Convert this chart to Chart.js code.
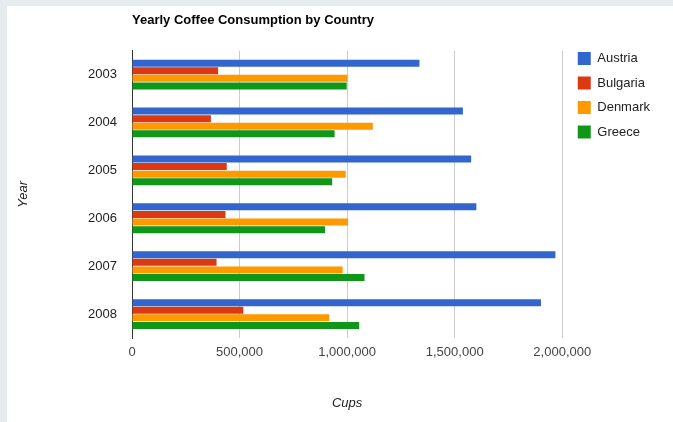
<!DOCTYPE html>
<html>
<head>
<meta charset="utf-8">
<script src="https://cdn.jsdelivr.net/npm/chart.js@4/dist/chart.umd.min.js"></script>
<style>
  html, body { margin: 0; padding: 0; background: #e6ebee; }
  #wrap { width: 673px; height: 422px; position: relative; }
</style>
</head>
<body>
<div id="wrap"><canvas id="coffee" width="673" height="422"></canvas></div>
<script>
// data
var years = ["2003", "2004", "2005", "2006", "2007", "2008"];
var austria  = [1336060, 1538156, 1576579, 1600652, 1968113, 1901067];
var bulgaria = [400361, 366849, 440514, 434552, 393032, 517206];
var denmark  = [1001582, 1119450, 993360, 1004163, 979198, 916965];
var greece   = [997974, 941795, 930593, 897127, 1080887, 1056036];
var cupTicks = [0, 500000, 1000000, 1500000, 2000000];

var FONT = "'Liberation Sans', Arial, sans-serif";

// gray page with the white panel behind the chart
var panel = {
	id : "panel",
	beforeDraw : function(chart) {
		var c = chart.ctx;
		c.save();
		c.fillStyle = "#e6ebee";
		c.fillRect(0, 0, chart.width, chart.height);
		c.fillStyle = "#ffffff";
		c.fillRect(7, 6, chart.width - 7, chart.height - 6);
		c.restore();
	},
	afterLayout : function(chart) {
		// nudge the legend into place
		chart.legend.left += 4;
		chart.legend.right += 4;
		chart.legend.top -= 10;
		chart.legend.bottom -= 10;
	}
};

function series(label, values, color) {
	return {
		label : label,
		data : values,
		backgroundColor : color,
		borderWidth : 0,
		categoryPercentage : 0.635,
		barPercentage : 0.92
	};
}

var data = {
	labels : years,
	datasets : [
		series("Austria", austria, "#3366cc"),
		series("Bulgaria", bulgaria, "#dc3912"),
		series("Denmark", denmark, "#ff9900"),
		series("Greece", greece, "#109618")
	]
};

var options = {
	indexAxis : "y",
	responsive : false,
	animation : false,
	layout : { padding : { right : 17 } },
	plugins : {
		title : {
			display : true,
			text : "Yearly Coffee Consumption by Country",
			align : "start",
			fullSize : false,
			color : "#000",
			font : { family : FONT, size : 13, weight : "bold" },
			padding : { top : 13, bottom : 22 }
		},
		legend : {
			display : true,
			position : "right",
			align : "start",
			fullSize : false,
			labels : {
				boxWidth : 13,
				boxHeight : 13,
				padding : 11.5,
				color : "#222",
				font : { family : FONT, size : 13 }
			}
		},
		tooltip : { enabled : false }
	},
	scales : {
		x : {
			min : 0,
			max : 2000000,
			afterFit : function(s) { s.height = 84; },
			afterBuildTicks : function(s) {
				s.ticks = cupTicks.map(function(v) { return { value : v }; });
			},
			ticks : {
				padding : 7,
				color : "#444",
				font : { family : FONT, size : 13 },
				callback : function(v) { return v.toLocaleString("en-US"); }
			},
			grid : { color : "#cccccc", drawTicks : false },
			border : { display : false },
			title : {
				display : true,
				text : "Cups",
				color : "#222",
				font : { family : FONT, size : 13, style : "italic" },
				padding : { bottom : 11 }
			}
		},
		y : {
			afterFit : function(s) { s.width = 132; },
			ticks : {
				padding : 15,
				color : "#222",
				font : { family : FONT, size : 13 }
			},
			grid : { display : false, drawTicks : false },
			border : { display : true, color : "#333", width : 1 },
			title : {
				display : true,
				text : "Year",
				color : "#222",
				font : { family : FONT, size : 13, style : "italic" },
				padding : { top : 16 }
			}
		}
	}
};

var chart = new Chart(document.getElementById("coffee"), {
	type : "bar",
	data : data,
	options : options,
	plugins : [panel]
});
</script>
</body>
</html>
